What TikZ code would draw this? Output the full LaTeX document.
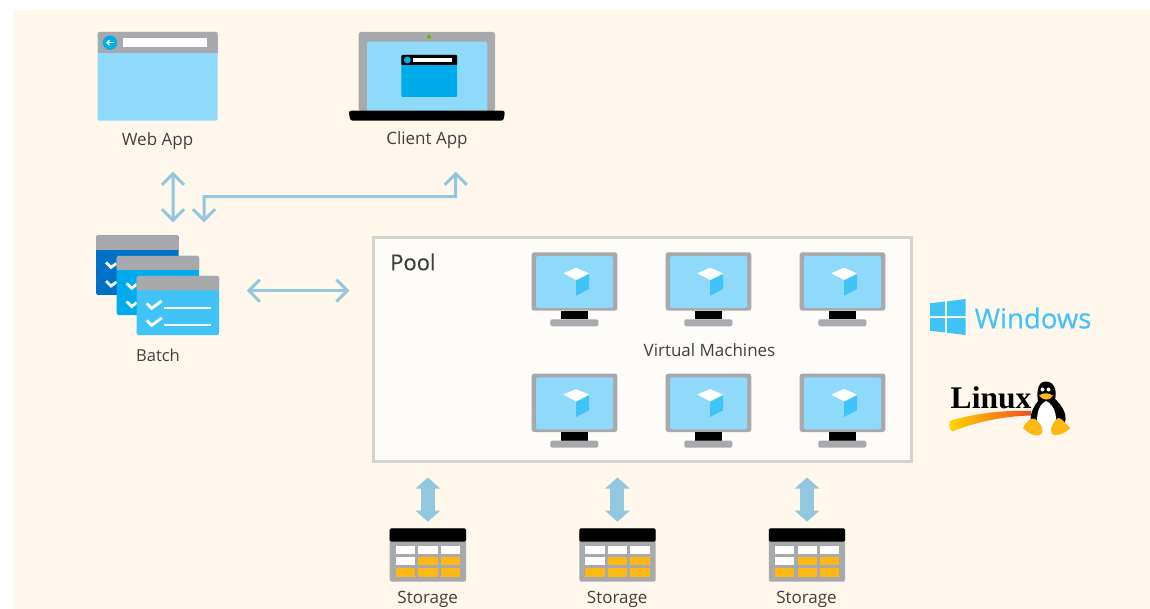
\documentclass[tikz,border=0pt]{standalone}
\usepackage{fontspec}
\setmainfont{Open Sans}
\newfontfamily\linuxfont{Liberation Serif}
\newfontfamily\heavyfont[FakeBold=0.4]{Open Sans}
\usetikzlibrary{arrows.meta}
\definecolor{bgbeige}{HTML}{FFF7EC}
\definecolor{poolfill}{HTML}{FEFCF8}
\definecolor{poolline}{HTML}{D4D4CE}
\definecolor{greybar}{HTML}{A7A9AC}
\definecolor{lightblue}{HTML}{8FD9FB}
\definecolor{skyblue}{HTML}{40C4F8}
\definecolor{azure}{HTML}{00ABEC}
\definecolor{deepblue}{HTML}{0072C6}
\definecolor{amber}{HTML}{FDB813}
\definecolor{arrowblue}{HTML}{93C6DF}
\definecolor{txt}{HTML}{404040}
\definecolor{leaf}{HTML}{7AB800}
\definecolor{swoosha}{HTML}{FFD500}
\definecolor{swooshb}{HTML}{F04E23}
\tikzset{
  lbl/.style={text=txt,font=\fontsize{17}{20}\selectfont,inner sep=0pt},
  iconbox/.style={inner sep=0pt,outer sep=0pt,minimum width=#1},
  thinarrow/.style={draw=arrowblue,line width=3pt,{Straight Barb[length=11pt,width=22pt]}-{Straight Barb[length=11pt,width=22pt]}},
  fatarrow/.style={draw=arrowblue,line width=14pt,{Triangle[length=11pt,width=24pt]}-{Triangle[length=11pt,width=24pt]},shorten <=16pt,shorten >=6.6pt},
  checkmark/.style={draw=white,line width=2.8pt},
  winpane/.style={fill=skyblue},
  monitor/.pic={
    \node[inner sep=0pt,outer sep=0pt,minimum width=85.6pt,minimum height=58.4pt,fill=greybar,rounded corners=2.5pt,anchor=north] (-box) at (0,0) {};
    \fill[lightblue,rounded corners=2pt] (-38.5,3.7) rectangle (38.5,55.7);
    \fill[black] (-13.5,58.4) rectangle (13.8,67);
    \fill[greybar,rounded corners=1.5pt] (-24.2,67) rectangle (23.8,74);
    \fill[white] (-11.2,21) -- (1.5,15.4) -- (14.5,21) -- (1.5,27.7) -- cycle;
    \fill[skyblue] (1.5,28.4) -- (14.5,22) -- (14.5,36.7) -- (1.5,43.4) -- cycle;
  },
  storage/.pic={
    \node[inner sep=0pt,outer sep=0pt,minimum width=76.3pt,minimum height=53.4pt,fill=greybar,rounded corners=1.5pt,anchor=north] (-box) at (0,0) {};
    \fill[black,rounded corners=1.5pt] (-38.15,0) rectangle (38.15,13.4);
    \foreach \cx/\cy/\cc in {-32.15/17.4/white,-9.5/17.4/white,12.85/17.4/white,
                             -32.15/28.7/white,-9.5/28.7/amber,12.85/28.7/amber,
                             -32.15/40/amber,-9.5/40/amber,12.85/40/amber}{
      \fill[\cc] (\cx,\cy) rectangle ++(19.3,8.3);
    }
  },
}
\begin{document}
\begin{tikzpicture}[x=1pt,y=-1pt]
\useasboundingbox (0,0) rectangle (1150,609);
\fill[white] (0,0) rectangle (1150,609);
\fill[bgbeige] (14,10) rectangle (1150,609);

% Web App
\node[iconbox=120pt,minimum height=88.7pt,fill=lightblue,rounded corners=2pt] (webapp) at (157.7,76.35) {};
\fill[greybar,rounded corners=2pt] (97.7,32) rectangle (217.7,40) ;
\fill[greybar] (97.7,36) rectangle (217.7,53.3);
\fill[azure] (110,42.7) circle (7.2);
\fill[white] (122.7,38) rectangle (207.3,47.3);
\draw[white,line width=1.3pt,-{Straight Barb[length=2.5pt,width=5pt]}] (114,42.7) -- (106,42.7);
\node[lbl] (webapplabel) at (157.5,141) {Web App};

% Client App
\node[iconbox=156.3pt,minimum height=88.7pt] (clientapp) at (426.85,76.35) {};
\fill[greybar,rounded corners=2.5pt] (358.7,32) -- (495,32) -- (495,111) -- (358.7,111) -- cycle;
\fill[lightblue,rounded corners=2pt] (367,41.7) rectangle (487.3,113);
\fill[black,rounded corners=2.5pt] (348.7,110.7) -- (505,110.7) -- (503.5,120.7) -- (350.2,120.7) -- cycle;
\fill[leaf] (429,36.7) circle (2.2);
\fill[azure,rounded corners=1pt] (401.3,55) rectangle (457,97);
\fill[black,rounded corners=1pt] (401.3,55) rectangle (457,65);
\fill[azure] (407.3,60) circle (3.5);
\fill[white] (412.7,57.7) rectangle (452,62.3);
\node[lbl] (clientapplabel) at (427,140) {Client App};

% Batch
\node[iconbox=82.7pt,minimum height=59.7pt,fill=deepblue,rounded corners=1.5pt] (batchback) at (137.35,265.15) {};
\fill[greybar,rounded corners=1.5pt] (96,235.3) rectangle (178.7,250);
\fill[greybar] (96,240) rectangle (178.7,250);
\draw[checkmark] (106,262.3) -- (111,267.3) -- (116.7,263.3);
\draw[checkmark] (106,281) -- (111,286) -- (116.7,282);
\node[iconbox=82.3pt,minimum height=59pt,fill=azure,rounded corners=1.5pt] (batchmiddle) at (157.85,285.5) {};
\fill[greybar,rounded corners=1.5pt] (116.7,256) rectangle (199,270);
\fill[greybar] (116.7,260) rectangle (199,270);
\draw[checkmark] (126.7,283.3) -- (131.7,288.3) -- (136.7,284.3);
\draw[checkmark] (126.7,301.5) -- (131.7,306.5) -- (136.7,302.5);
\node[iconbox=82.3pt,minimum height=59pt,fill=skyblue,rounded corners=1.5pt] (batchfront) at (177.85,305.5) {};
\fill[greybar,rounded corners=1.5pt] (136.7,276) rectangle (219,290.3);
\fill[greybar] (136.7,280) rectangle (219,290.3);
\draw[checkmark] (146.7,303.3) -- (151.7,308.3) -- (161.7,301);
\draw[white,line width=2pt] (164,308.3) -- (210.7,308.3);
\draw[checkmark] (146.7,320.3) -- (151.7,325.3) -- (161.7,318);
\draw[white,line width=2pt] (164,325.3) -- (210.7,325.3);
\node[lbl,font=\fontsize{16.5}{19}\selectfont] (batchlabel) at (158,355) {Batch};

% Pool
\node[draw=poolline,line width=3pt,fill=poolfill,inner sep=0pt,outer sep=0pt,minimum width=538pt,minimum height=224pt] (pool) at (642.5,349.5) {};
\node[text=txt,font=\heavyfont\fontsize{22}{26}\selectfont,inner sep=0pt,anchor=west] (poollabel) at (390,262) {Pool};
\pic (vma) at (574.5,252.3) {monitor};
\pic (vmb) at (708.5,252.3) {monitor};
\pic (vmc) at (842.5,252.3) {monitor};
\pic (vmd) at (574.5,373.6) {monitor};
\pic (vme) at (708.5,373.6) {monitor};
\pic (vmf) at (842.5,373.6) {monitor};
\node[lbl] (vmlabel) at (709.5,350.5) {Virtual Machines};

% Windows
\fill[winpane] (930,303.3) -- (945,301.5) -- (945,316.2) -- (930,316.2) -- cycle;
\fill[winpane] (947,301.3) -- (965.7,299) -- (965.7,316.2) -- (947,316.2) -- cycle;
\fill[winpane] (930,318) -- (945,318) -- (945,332.5) -- (930,330.7) -- cycle;
\fill[winpane] (947,318) -- (965.7,318) -- (965.7,335) -- (947,332.8) -- cycle;
\node[text=skyblue,font=\heavyfont\fontsize{27.5}{33}\selectfont,inner sep=0pt] (windowslabel) at (1033,318) {Windows};

% Linux
\shade[left color=swoosha,right color=swooshb]
  (950,421) .. controls (975,413) and (1005,410) .. (1031,411)
  -- (1031,415.5) .. controls (1005,416) and (975,422) .. (952,431.5)
  .. controls (949,429) and (949,425) .. (950,421) -- cycle;
\node[text=black,font=\linuxfont\bfseries\fontsize{31.5}{35}\selectfont,inner sep=0pt] (linuxlabel) at (991,398) {Linux};
% penguin
\fill[black] (1045.7,381.5) .. controls (1036,381.5) and (1037,396) .. (1038,401)
  .. controls (1031,410) and (1028,420) .. (1033,428) -- (1060,430)
  .. controls (1069,422) and (1067,410) .. (1055,399)
  .. controls (1057,392) and (1055,381.5) .. (1045.7,381.5) -- cycle;
\fill[white] (1046,401) .. controls (1037,405) and (1035,420) .. (1039,431) -- (1053,432) .. controls (1059,422) and (1056,405) .. (1046,401) -- cycle;
\fill[white] (1042.5,389.5) circle (2) (1048.5,389.5) circle (2);
\fill[amber] (1039,395.5) .. controls (1044,392.5) and (1048,392.5) .. (1053,395.5) .. controls (1050,401) and (1043,401) .. (1039,395.5) -- cycle;
\fill[amber] (1023,428) .. controls (1026,421) and (1032,417) .. (1035,419) .. controls (1042,424) and (1045,432) .. (1040,435) .. controls (1034,437) and (1028,433) .. (1023,428) -- cycle;
\fill[amber] (1070,428) .. controls (1067,432) and (1058,437) .. (1052,434) .. controls (1049,430) and (1052,423) .. (1058,418) .. controls (1062,418) and (1066,424) .. (1070,428) -- cycle;

% Storage
\pic (sta) at (427.85,528.3) {storage};
\pic (stb) at (617.45,528.3) {storage};
\pic (stc) at (807,528.3) {storage};
\node[lbl] (stalabel) at (427.7,599.5) {Storage};
\node[lbl] (stblabel) at (617.2,599.5) {Storage};
\node[lbl] (stclabel) at (806.5,599.5) {Storage};

% Connectors
\draw[thinarrow,shorten <=51pt,shorten >=13pt] ([xshift=15.3pt]webapp.south) -- ([xshift=35.7pt]batchback.north);
\draw[thinarrow,shorten <=13pt,shorten >=51pt] ([xshift=66.7pt]batchback.north) -- (204,196.7) -- (455.7,196.7) -- ([xshift=28.85pt]clientapp.south);
\draw[thinarrow,shorten <=27.7pt,shorten >=24pt] ([yshift=14.8pt]batchfront.east) -- ([yshift=58.8pt]pool.west);
\draw[fatarrow] (pool.south -| sta-box.north) -- (sta-box.north);
\draw[fatarrow] (pool.south -| stb-box.north) -- (stb-box.north);
\draw[fatarrow] (pool.south -| stc-box.north) -- (stc-box.north);
\end{tikzpicture}
\end{document}
